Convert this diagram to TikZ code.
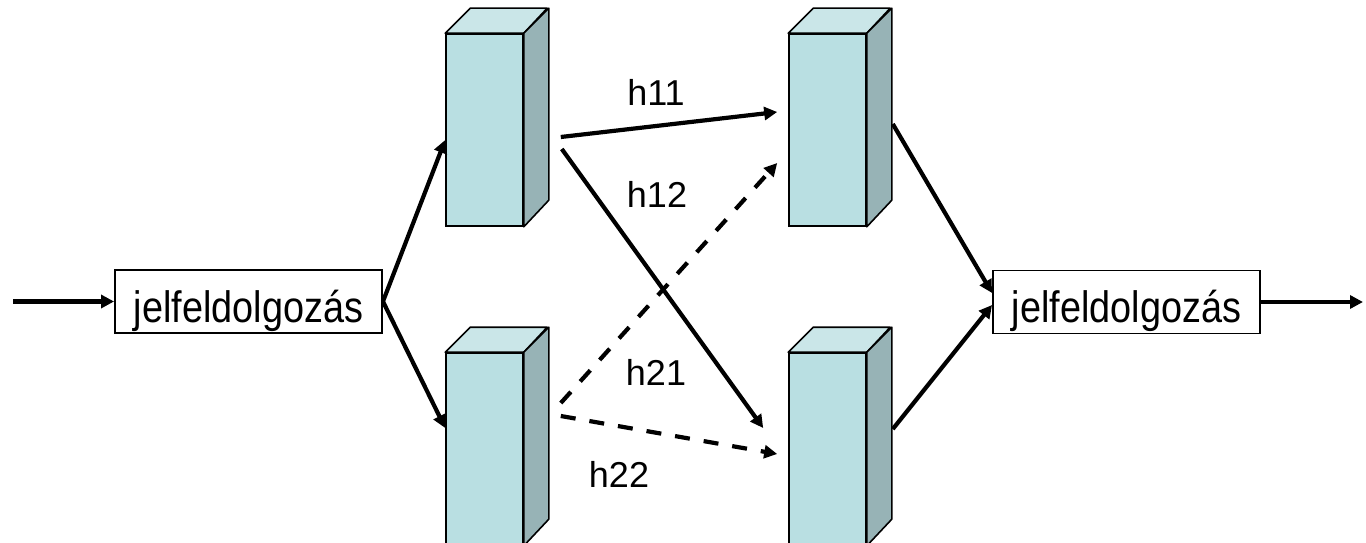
\documentclass[tikz,border=0pt]{standalone}
\usepackage{fontspec}
\setmainfont{Liberation Sans}
\usetikzlibrary{arrows.meta}

\definecolor{cubefront}{HTML}{B9DFE2}
\definecolor{cubetop}{HTML}{CAE6E8}
\definecolor{cubeside}{HTML}{97B3B6}

\tikzset{
  procbox/.style={draw=black, line width=1.9pt, fill=white, inner sep=0pt,
    minimum width=267pt, minimum height=63pt, text height=41pt, text depth=0pt,
    font=\fontsize{44}{50}\selectfont},
  cubefront/.style={draw=black, line width=1.6pt, fill=cubefront, inner sep=0pt,
    minimum width=77pt, minimum height=192pt},
  face/.style={draw=black, line width=1.6pt, line join=round},
  conn/.style={line width=4.2pt, -{Triangle[length=13pt,width=13pt]}},
  dconn/.style={conn, dash pattern=on 15pt off 14pt},
  hlabel/.style={inner sep=0pt, anchor=base, font=\fontsize{36}{40}\selectfont},
}

% a tall box: named front face plus its top and right faces
\newcommand\tallbox[3]{%
  \node[cubefront] (#1) at (#2,#3) {};
  \path[face, fill=cubetop] (#1.north west) -- ++(25,-25) -- ++(77,0)
    -- (#1.north east) -- cycle;
  \path[face, fill=cubeside] (#1.north east) -- ++(25,-25) -- ++(0,192)
    -- (#1.south east) -- cycle;
}

\begin{document}
\begin{tikzpicture}[x=1pt, y=-1pt]
\useasboundingbox (0,0) rectangle (1366,543);

% processing blocks
\node[procbox] (pin) at (248.5,301.5) {\scalebox{0.86}[1]{jelfeldolgozás}};
\node[procbox] (pout) at (1126.5,302) {\scalebox{0.86}[1]{jelfeldolgozás}};

% the four tall boxes
\tallbox{a1}{484.5}{130}
\tallbox{a2}{484.5}{449}
\tallbox{b1}{827.5}{130}
\tallbox{b2}{827.5}{449}

% input and output
\coordinate (src) at (13,301.5);
\coordinate (dst) at (1363,302);
\draw[conn] (src) -- (pin.west);
\draw[conn] (pout.east) -- (dst);

% fan-out
\draw[conn] (pin.east) -- ([yshift=-10pt]a1.west);
\draw[conn] (pin.east) -- ([yshift=21pt]a2.west);

% cross paths
\draw[conn] ([xshift=37pt,yshift=-7pt]a1.east) -- ([xshift=-11pt,yshift=18pt]b1.west);
\draw[conn] ([xshift=38pt,yshift=-19pt]a1.east) -- ([xshift=-25pt,yshift=21pt]b2.west);
\draw[dconn] ([xshift=37pt,yshift=46pt]a2.east) -- ([xshift=-11pt,yshift=-33pt]b1.west);
\draw[dconn] ([xshift=37pt,yshift=33pt]a2.east) -- ([xshift=-11pt,yshift=-5pt]b2.west);

% fan-in
\draw[conn] ([xshift=26pt,yshift=6pt]b1.east) -- ([yshift=9pt]pout.west);
\draw[conn] ([xshift=26pt,yshift=20pt]b2.east) -- ([yshift=-3pt]pout.west);

% path labels
\node[hlabel] (l11) at (656,105) {h11};
\node[hlabel] (l12) at (657,207) {h12};
\node[hlabel] (l21) at (656,385) {h21};
\node[hlabel] (l22) at (619,487) {h22};
\end{tikzpicture}
\end{document}
